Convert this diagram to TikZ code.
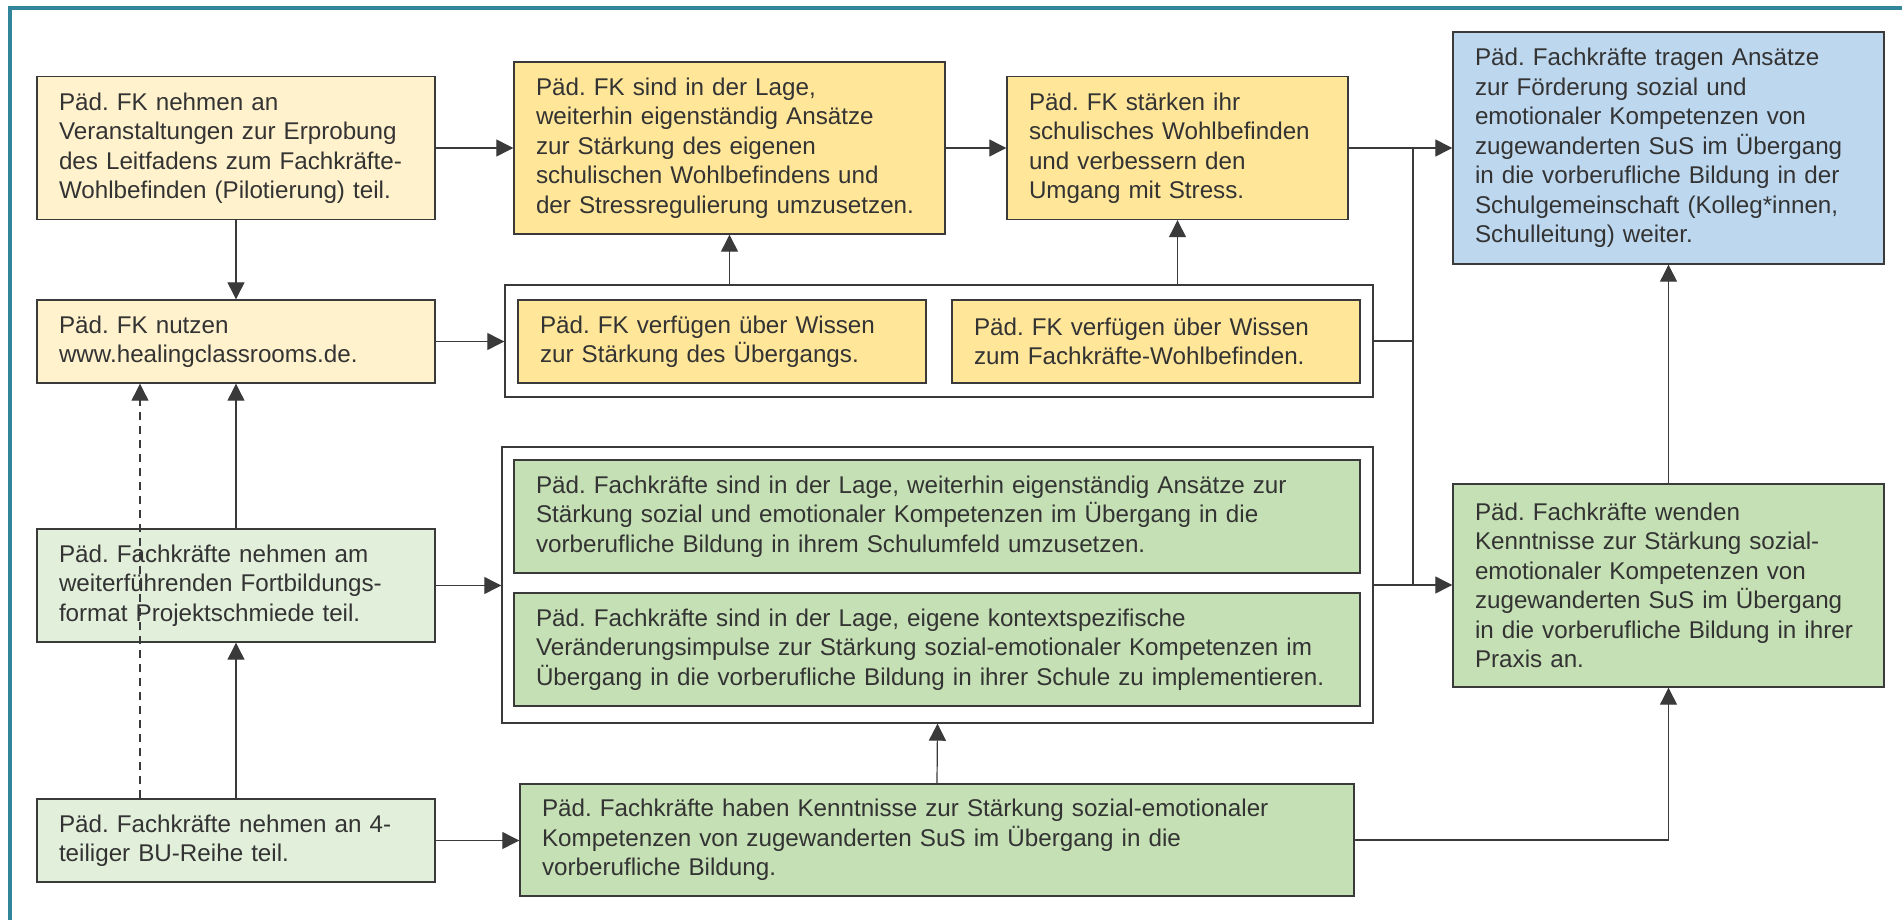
\documentclass[tikz,border=0pt]{standalone}
\usepackage{fontspec}
\setmainfont{Liberation Sans}
\usetikzlibrary{arrows.meta}
\definecolor{rahmen}{HTML}{31869B}
\definecolor{linie}{HTML}{3A3A3A}
\definecolor{gelbhell}{HTML}{FFF2CC}
\definecolor{gelb}{HTML}{FFE699}
\definecolor{gruenhell}{HTML}{E2EFDA}
\definecolor{gruen}{HTML}{C5E0B4}
\definecolor{blau}{HTML}{BDD7EE}
\frenchspacing
\hyphenpenalty=10000

\begin{document}
\begin{tikzpicture}[x=0.5pt,y=-0.5pt,
    >={Triangle[length=8.5pt,width=8.5pt]},
    box/.style={draw=linie,line width=0.7pt,align=left,inner xsep=11pt,inner ysep=0pt,
      text=black!80,font=\fontsize{12.1}{14.75}\selectfont},
    huelle/.style={draw=linie,line width=0.7pt,fill=white,inner sep=0pt},
    pfeil/.style={draw=linie,line width=0.6pt}]
    \useasboundingbox (0,0) rectangle (1902,920);
    \draw[rahmen,line width=2pt] (10,940) -- (10,8) -- (1920,8);

    \node[box,fill=gelbhell,text width=177pt,minimum height=71.5pt] (leitfaden) at (236,148) {Päd. FK nehmen an\\Veranstaltungen zur Erprobung\\des Leitfadens zum Fachkräfte-\\Wohlbefinden (Pilotierung) teil.};
    \node[box,fill=gelbhell,text width=177pt,minimum height=41.5pt] (website) at (236,341.5) {Päd. FK nutzen\\www.healingclassrooms.de.};
    \node[box,fill=gruenhell,text width=177pt,minimum height=56.5pt] (projekt) at (236,585.5) {Päd. Fachkräfte nehmen am\\weiterführenden Fortbildungs-\\format Projektschmiede teil.};
    \node[box,fill=gruenhell,text width=177pt,minimum height=41.5pt] (bureihe) at (236,840.5) {Päd. Fachkräfte nehmen an 4-\\teiliger BU-Reihe teil.};

    \node[box,fill=gelb,text width=193.5pt,minimum height=86pt] (lage) at (729.5,148) {Päd. FK sind in der Lage,\\weiterhin eigenständig Ansätze\\zur Stärkung des eigenen\\schulischen Wohlbefindens und\\der Stressregulierung umzusetzen.};
    \node[box,fill=gelb,text width=148.5pt,minimum height=71.5pt] (staerken) at (1177.5,148) {Päd. FK stärken ihr\\schulisches Wohlbefinden\\und verbessern den\\Umgang mit Stress.};
    \node[box,fill=blau,text width=193.5pt,minimum height=116pt] (tragen) at (1668.5,148) {Päd. Fachkräfte tragen Ansätze\\zur Förderung sozial und\\emotionaler Kompetenzen von\\zugewanderten SuS im Übergang\\in die vorberufliche Bildung in der\\Schulgemeinschaft (Kolleg*innen,\\Schulleitung) weiter.};

    \node[huelle,minimum width=434pt,minimum height=56pt] (wissen) at (939,341) {};
    \node[box,fill=gelb,text width=182pt,minimum height=41.5pt] (wuebergang) at (722,341.5) {Päd. FK verfügen über Wissen\\zur Stärkung des Übergangs.};
    \node[box,fill=gelb,text width=182pt,minimum height=41.5pt] (wwohl) at (1156,341.5) {Päd. FK verfügen über Wissen\\zum Fachkräfte-Wohlbefinden.};

    \node[huelle,minimum width=435.5pt,minimum height=138pt] (umsetzen) at (937.5,585) {};
    \node[box,fill=gruen,text width=401pt,minimum height=56.5pt] (ansaetze) at (937,516.5) {Päd. Fachkräfte sind in der Lage, weiterhin eigenständig Ansätze zur\\Stärkung sozial und emotionaler Kompetenzen im Übergang in die\\vorberufliche Bildung in ihrem Schulumfeld umzusetzen.};
    \node[box,fill=gruen,text width=401pt,minimum height=56.5pt] (impulse) at (937,649.5) {Päd. Fachkräfte sind in der Lage, eigene kontextspezifische\\Veränderungsimpulse zur Stärkung sozial-emotionaler Kompetenzen im\\Übergang in die vorberufliche Bildung in ihrer Schule zu implementieren.};

    \node[box,fill=gruen,text width=395pt,minimum height=56pt] (kenntnisse) at (937,840) {Päd. Fachkräfte haben Kenntnisse zur Stärkung sozial-emotionaler\\Kompetenzen von zugewanderten SuS im Übergang in die\\vorberufliche Bildung.};
    \node[box,fill=gruen,text width=193.5pt,minimum height=101.5pt] (wenden) at (1668.5,585.5) {Päd. Fachkräfte wenden\\Kenntnisse zur Stärkung sozial-\\emotionaler Kompetenzen von\\zugewanderten SuS im Übergang\\in die vorberufliche Bildung in ihrer\\Praxis an.};

    \coordinate (knoten) at (1413,148);
    \coordinate (knotenunten) at (1413,585);

    \draw[pfeil,->] (leitfaden.east) -- (leitfaden.east -| lage.west);
    \draw[pfeil,->] (lage.east) -- (lage.east -| staerken.west);
    \draw[pfeil,->] (staerken.east) -- (staerken.east -| tragen.west);
    \draw[pfeil,->] (leitfaden.south) -- (website.north);
    \draw[pfeil,->] (website.east) -- (website.east -| wissen.west);
    \draw[pfeil,->] (lage.south |- wissen.north) -- (lage.south);
    \draw[pfeil,->] (staerken.south |- wissen.north) -- (staerken.south);
    \draw[pfeil] (wissen.east) -- (wissen.east -| knoten);
    \draw[pfeil] (knoten) -- (knotenunten);
    \draw[pfeil,->] (projekt.north) -- (website.south);
    \draw[pfeil,->] (projekt.east) -- (projekt.east -| umsetzen.west);
    \draw[pfeil,->] (umsetzen.east) -- (umsetzen.east -| wenden.west);
    \draw[pfeil,->] (bureihe.north) -- (projekt.south);
    \draw[pfeil,dash pattern=on 4pt off 3pt,->] ([xshift=-48pt]bureihe.north) -- ([xshift=-48pt]website.south);
    \draw[pfeil,->] (bureihe.east) -- (bureihe.east -| kenntnisse.west);
    \draw[pfeil,->] (kenntnisse.north) -- (umsetzen.south);
    \draw[pfeil,->] (kenntnisse.east) -| (wenden.south);
    \draw[pfeil,->] (wenden.north) -- (tragen.south);
\end{tikzpicture}
\end{document}
